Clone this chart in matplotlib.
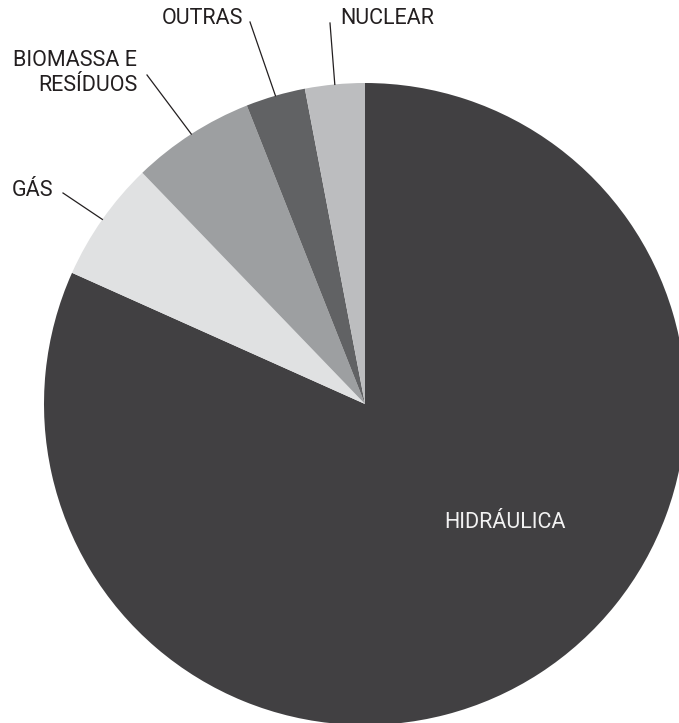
import matplotlib
matplotlib.use("Agg")
import matplotlib.pyplot as plt
import numpy as np

categories = ["HIDRÁULICA", "GÁS", "BIOMASSA E\nRESÍDUOS", "OUTRAS", "NUCLEAR"]
values = [81.7, 6.1, 6.2, 3.0, 3.0]
colors = ["#414042", "#e0e1e2", "#9d9fa1", "#616264", "#bcbdbf"]

W, H = 679, 723
fig = plt.figure(figsize=(W / 100, H / 100), dpi=100)
ax = fig.add_axes([0, 0, 1, 1])
ax.set_xlim(0, W)
ax.set_ylim(0, H)
ax.axis("off")

cx, cy, R = 365, H - 404, 321
wedges, _ = ax.pie(values, colors=colors, startangle=90, counterclock=False,
                   center=(cx, cy), radius=R, frame=True,
                   wedgeprops=dict(linewidth=0))
ax.set_xlim(0, W)
ax.set_ylim(0, H)
ax.set_aspect("equal", adjustable="datalim")
ax.axis("off")

FS = 15.5
font = dict(family=["Roboto", "DejaVu Sans"], fontsize=FS, color="#231f20")

# label placements (line end and text anchor, in pixel coords from top-left)
label_pos = {
    "GÁS": ((63, 193), (53, 191), "right"),
    "BIOMASSA E\nRESÍDUOS": ((147, 75), (137, 73), "right"),
    "OUTRAS": ((250, 22), (243, 18.5), "right"),
    "NUCLEAR": ((330, 23), (340, 18.5), "left"),
}

for w, lab in zip(wedges, categories):
    if lab not in label_pos:
        continue
    mid = np.deg2rad((w.theta1 + w.theta2) / 2)
    x0 = cx + R * np.cos(mid)
    y0 = cy + R * np.sin(mid)
    (lx, ly), (tx, ty), ha = label_pos[lab]
    ax.plot([x0, lx], [y0, H - ly], color="#231f20", lw=0.9)
    ax.text(tx, H - ty, lab, ha=ha, va="center", linespacing=1.2, **font)

ax.text(505, H - 523, categories[0], ha="center", va="center",
        family=["Roboto", "DejaVu Sans"], fontsize=FS, color="#f2f2f2")

fig.savefig("out.png", dpi=100)
